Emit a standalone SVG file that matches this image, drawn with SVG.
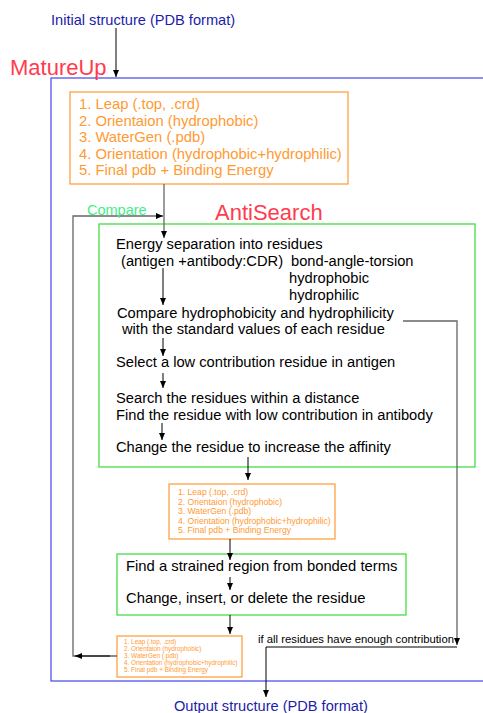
<svg xmlns="http://www.w3.org/2000/svg" width="483" height="713" viewBox="0 0 483 713">
<style>
text{font-family:"Liberation Sans",Arial,sans-serif}
.blue{fill:#1c1ca8;font-size:14.6px}
.red{fill:#ff3b4e;font-size:22px}
.or{fill:#ff9a33}
.blk{fill:#000;font-size:14.7px}
.ln{stroke:#000;stroke-width:1;fill:none}
.gl{stroke:#666;stroke-width:1.3;fill:none}
.obox{fill:#fff;stroke:#ff9a33;stroke-width:1.2}
.gbox{fill:none;stroke:#44dd44;stroke-width:1.3}
</style>
<defs>
<marker id="ah" markerWidth="8" markerHeight="8" refX="7" refY="4" orient="auto" markerUnits="userSpaceOnUse">
<path d="M0,1 L7,4 L0,7 Z" fill="#000"/>
</marker>
</defs>
<rect width="483" height="713" fill="#fff"/>
<g id="matureup">
<rect x="51" y="78" width="440" height="603" fill="none" stroke="#4444ee" stroke-width="1.2"/>
<text x="10" y="75" class="red">MatureUp</text>
</g>
<g id="initial"><text x="51" y="25" class="blue">Initial structure (PDB format)</text></g>
<g id="output"><text x="174" y="711" class="blue">Output structure (PDB format)</text></g>
<g id="orange1">
<rect x="70" y="92" width="278" height="92" class="obox"/>
<g class="or" style="font-size:14.8px">
<text x="79" y="109">1. Leap (.top, .crd)</text>
<text x="79" y="125.5">2. Orientaion (hydrophobic)</text>
<text x="79" y="142">3. WaterGen (.pdb)</text>
<text x="79" y="158.5">4. Orientation (hydrophobic+hydrophilic)</text>
<text x="79" y="175">5. Final pdb + Binding Energy</text>
</g>
</g>
<g id="antisearch">
<rect x="99" y="224" width="376" height="243" class="gbox"/>
<text x="215" y="220" class="red">AntiSearch</text>
<text x="116" y="249" class="blk">Energy separation into residues</text>
<text x="121" y="266" class="blk">(antigen +antibody:CDR)</text>
<text x="291" y="266" class="blk">bond-angle-torsion</text>
<text x="289" y="283" class="blk">hydrophobic</text>
<text x="289" y="300" class="blk">hydrophilic</text>
<text x="117" y="318" class="blk">Compare hydrophobicity and hydrophilicity</text>
<text x="122" y="334" class="blk">with the standard values of each residue</text>
<text x="116" y="367" class="blk">Select a low contribution residue in antigen</text>
<text x="116" y="403" class="blk">Search the residues within a distance</text>
<text x="116" y="420" class="blk">Find the residue with low contribution in antibody</text>
<text x="116" y="452" class="blk">Change the residue to increase the affinity</text>
</g>
<g id="orange2">
<rect x="169" y="484" width="166" height="55" class="obox"/>
<g class="or" style="font-size:8.6px">
<text x="178" y="495">1. Leap (.top, .crd)</text>
<text x="178" y="504.5">2. Orientaion (hydrophobic)</text>
<text x="178" y="514">3. WaterGen (.pdb)</text>
<text x="178" y="523.5">4. Orientation (hydrophobic+hydrophilic)</text>
<text x="178" y="533">5. Final pdb + Binding Energy</text>
</g>
</g>
<g id="strained">
<rect x="117" y="554" width="289" height="61" class="gbox"/>
<text x="126" y="571" class="blk" style="font-size:14.8px">Find a strained region from bonded terms</text>
<text x="126" y="603" class="blk" style="font-size:14.8px">Change, insert, or delete the residue</text>
</g>
<g id="orange3">
<rect x="117" y="636" width="125" height="41" class="obox"/>
<g class="or" style="font-size:6.4px">
<text x="124" y="643.5">1. Leap (.top, .crd)</text>
<text x="124" y="650.5">2. Orientaion (hydrophobic)</text>
<text x="124" y="657.5">3. WaterGen (.pdb)</text>
<text x="124" y="664.5">4. Orientation (hydrophobic+hydrophilic)</text>
<text x="124" y="672">5. Final pdb + Binding Energy</text>
</g>
</g>
<g id="connectors">
<line x1="116" y1="28" x2="116" y2="77" class="ln" marker-end="url(#ah)"/>
<line x1="164" y1="184" x2="164" y2="238" class="gl" marker-end="url(#ah)"/>
<polyline points="117,656 73,656 73,216 163,216" class="gl" marker-end="url(#ah)"/>
<line x1="110" y1="656" x2="75" y2="656" class="ln" marker-end="url(#ah)"/>
<text x="87" y="215" fill="#44ee88" style="font-size:14.5px">Compare</text>
<line x1="163" y1="268" x2="163" y2="305" class="ln" marker-end="url(#ah)"/>
<line x1="163" y1="338" x2="163" y2="356" class="ln" marker-end="url(#ah)"/>
<line x1="163" y1="373" x2="163" y2="388" class="ln" marker-end="url(#ah)"/>
<line x1="162" y1="423" x2="162" y2="440" class="ln" marker-end="url(#ah)"/>
<line x1="248" y1="457" x2="248" y2="480" class="ln" marker-end="url(#ah)"/>
<line x1="230" y1="539" x2="230" y2="560" class="ln" marker-end="url(#ah)"/>
<line x1="230" y1="577" x2="230" y2="590" class="ln" marker-end="url(#ah)"/>
<line x1="230" y1="615" x2="230" y2="634" class="ln" marker-end="url(#ah)"/>
<polyline points="403,321 457,321 457,645" class="gl" marker-end="url(#ah)"/>
<polyline points="457,647 266,647 266,697" class="ln" marker-end="url(#ah)"/>
<text x="258" y="643" fill="#000" style="font-size:11.3px">if all residues have enough contribution</text>
</g>
</svg>
